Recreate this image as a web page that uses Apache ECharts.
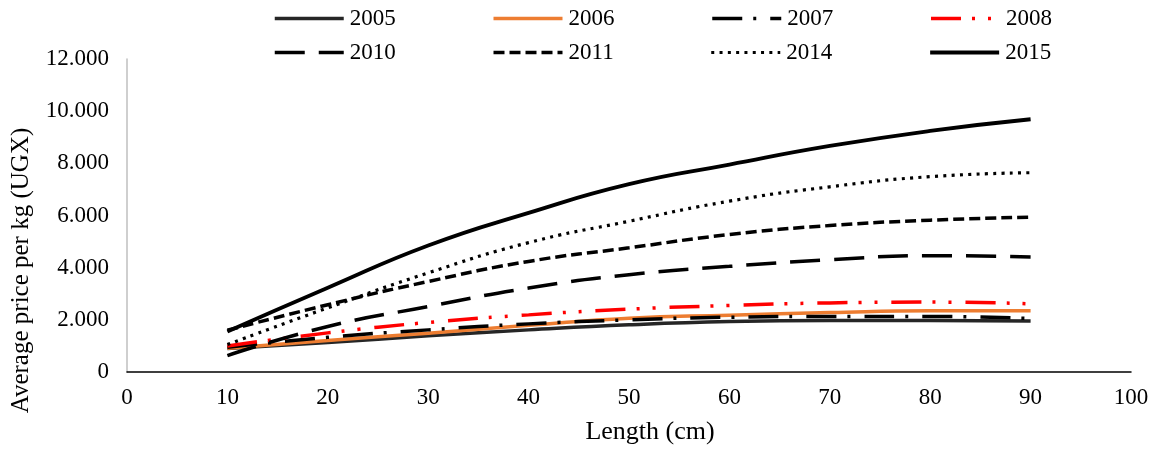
<!DOCTYPE html>
<html>
<head>
<meta charset="utf-8">
<script src="https://cdn.jsdelivr.net/npm/echarts@6/dist/echarts.min.js"></script>
<style>html,body{margin:0;padding:0;background:#fff}#c{width:1156px;height:450px}</style>
</head>
<body>
<div id="c"></div>
<script>
const lengths = [10, 20, 30, 40, 50, 60, 70, 80, 90];
const y2005 = [900, 1130, 1385, 1615, 1810, 1935, 1975, 1975, 1960];
const y2006 = [910, 1205, 1490, 1790, 2065, 2180, 2280, 2345, 2345];
const y2007 = [950, 1330, 1615, 1845, 2000, 2100, 2130, 2130, 2050];
const y2008 = [1000, 1500, 1900, 2190, 2410, 2550, 2650, 2680, 2615];
const y2010 = [630, 1745, 2510, 3220, 3730, 4050, 4300, 4460, 4410];
const y2011 = [1600, 2580, 3470, 4240, 4760, 5270, 5615, 5820, 5935];
const y2014 = [1050, 2460, 3800, 4960, 5780, 6550, 7100, 7490, 7640];
const y2015 = [1550, 3230, 4850, 6100, 7200, 7950, 8665, 9243, 9690];
const yTicks = [0, 2000, 4000, 6000, 8000, 10000, 12000];

const FONT = '"Liberation Serif", "DejaVu Serif", serif';
function pts(arr){ return lengths.map((x,i)=>[x, arr[i]]); }
function mk(name, arr, color, type, width){
  return {
    name, type:'line', data: pts(arr), smooth: true, showSymbol:false, symbol:'none',
    lineStyle:{color, width: width||3.5, type: type||'solid', cap:'butt'},
    itemStyle:{color}
  };
}
const series = [
  mk('2005', y2005, '#262626', 'solid', 3.5),
  mk('2006', y2006, '#ED7D31', 'solid', 3.5),
  mk('2007', y2007, '#000000', [30, 11, 3, 14], 3.5),
  mk('2008', y2008, '#FF0000', [30, 11, 3, 13, 3, 14], 3.5),
  mk('2010', y2010, '#000000', [30, 14], 3.5),
  mk('2011', y2011, '#000000', [11, 5], 3.5),
  mk('2014', y2014, '#000000', [3, 5.3], 3.2),
  mk('2015', y2015, '#000000', 'solid', 3.8)
];
function legend(top, data){
  return {
    top, left: 273, padding:0, orient:'horizontal', data, itemWidth:69, itemHeight:14, itemGap:96,
    itemStyle:{opacity:0},
    lineStyle:{width:'inherit', type:'inherit', color:'inherit'},
    textStyle:{fontFamily:FONT, fontSize:23, color:'#000', padding:[0,0,0,1]}
  };
}
const chart = echarts.init(document.getElementById('c'), null, {renderer:'canvas'});
chart.setOption({
  animation:false,
  backgroundColor:'#fff',
  legend:[legend(7, ['2005','2006','2007','2008']), legend(41, ['2010','2011','2014','2015'])],
  grid:{left:127, right:25, top:59, bottom:78, containLabel:false},
  xAxis:{
    type:'value', min:0, max:100, interval:10,
    name:'Length (cm)', nameLocation:'middle', nameGap:47,
    nameTextStyle:{fontFamily:FONT, fontSize:26, color:'#000', padding:[0,0,0,42]},
    axisLine:{lineStyle:{color:'#000', width:1.5}}, axisTick:{show:false}, splitLine:{show:false},
    axisLabel:{fontFamily:FONT, fontSize:23, color:'#000', margin:14}
  },
  yAxis:{
    type:'value', min:0, max:12000, interval:2000,
    name:'Average price per kg (UGX)', nameLocation:'middle', nameGap:93,
    nameTextStyle:{fontFamily:FONT, fontSize:25, color:'#000', padding:[0,110,0,0]},
    axisLine:{show:true, lineStyle:{color:'#bfbfbf', width:1.5}}, axisTick:{show:false}, splitLine:{show:false},
    axisLabel:{fontFamily:FONT, fontSize:23, color:'#000', margin:18,
      formatter: v => yTicks.includes(v) ? (v===0 ? '0' : (v/1000).toFixed(0) + '.000') : ''}
  },
  series
});
</script>
</body>
</html>
